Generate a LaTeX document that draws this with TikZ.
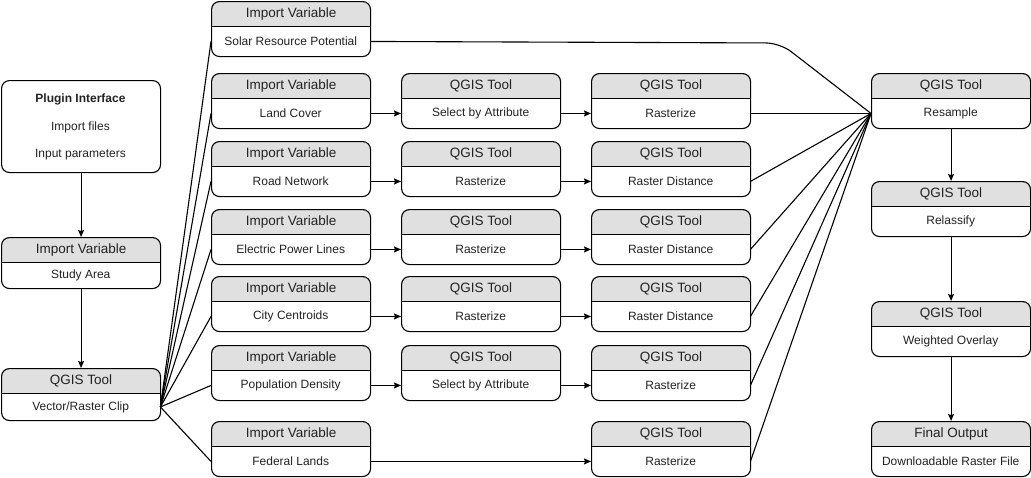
\documentclass[tikz,border=0pt]{standalone}
\usepackage{fontspec}
\setmainfont{Liberation Sans}
\usetikzlibrary{arrows.meta,calc}
\definecolor{hdrgray}{HTML}{E0E0E0}
\definecolor{txtcol}{HTML}{222222}
\tikzset{
  box/.style={draw, line width=1.1pt, rounded corners=8pt, minimum width=159pt, inner sep=0pt},
  hdrtxt/.style={inner sep=0pt, text=txtcol, font=\fontsize{13.5}{16}\selectfont},
  bodytxt/.style={inner sep=0pt, text=txtcol, font=\fontsize{12}{14}\selectfont},
  conn/.style={line width=1.1pt},
  arr/.style={conn, -{Stealth[length=7pt,width=6pt,inset=1pt]}},
}
% #1 name, #2 x left, #3 y top, #4 height, #5 header, #6 body
\newcommand\swim[6]{%
  \begin{scope}
    \clip (#2,-#3) rectangle ++(159,-25.5);
    \fill[hdrgray, rounded corners=8pt] (#2,-#3) rectangle ++(159,-#4);
  \end{scope}
  \node[box, minimum height=#4pt, anchor=north west] (#1) at (#2,-#3) {};
  \node[bodytxt, minimum width=159pt, minimum height={(#4-25.5)*1pt}, anchor=north west] (#1-b) at ($(#1.north west)+(0,-25.5)$) {#6};
  \node[hdrtxt] (#1-h) at ($(#1.north)+(0,-12.75)$) {#5};
  \draw[line width=1.1pt] (#1-b.north west) -- (#1-b.north east);
}
\begin{document}
\begin{tikzpicture}[x=1pt,y=1pt]
\useasboundingbox (0,0) rectangle (1031,-477);
% left column
\node[box, minimum height=92pt, anchor=north west] (plug) at (1,-80) {};
\node[bodytxt, font=\fontsize{12}{14}\selectfont\bfseries] (plug-t1) at (80.5,-99) {Plugin Interface};
\node[bodytxt] (plug-t2) at (80.5,-127) {Import files};
\node[bodytxt] (plug-t3) at (80.5,-155) {Input parameters};
\swim{study}{1}{237}{51}{Import Variable}{Study Area}
\swim{clip}{1}{368}{52}{QGIS Tool}{Vector/Raster Clip}
% import variables
\swim{solar}{211}{1}{55}{Import Variable}{Solar Resource Potential}
\swim{land}{211}{73}{55}{Import Variable}{Land Cover}
\swim{road}{211}{141}{55}{Import Variable}{Road Network}
\swim{elec}{211}{209}{55}{Import Variable}{Electric Power Lines}
\swim{city}{211}{276}{55}{Import Variable}{City Centroids}
\swim{pop}{211}{345}{55}{Import Variable}{Population Density}
\swim{fed}{211}{421}{55}{Import Variable}{Federal Lands}
% column 3
\swim{landA}{401}{73}{55}{QGIS Tool}{Select by Attribute}
\swim{roadA}{401}{141}{55}{QGIS Tool}{Rasterize}
\swim{elecA}{401}{209}{55}{QGIS Tool}{Rasterize}
\swim{cityA}{401}{276}{55}{QGIS Tool}{Rasterize}
\swim{popA}{401}{345}{55}{QGIS Tool}{Select by Attribute}
% column 4
\swim{landB}{591}{73}{55}{QGIS Tool}{Rasterize}
\swim{roadB}{591}{141}{55}{QGIS Tool}{Raster Distance}
\swim{elecB}{591}{209}{55}{QGIS Tool}{Raster Distance}
\swim{cityB}{591}{276}{55}{QGIS Tool}{Raster Distance}
\swim{popB}{591}{345}{55}{QGIS Tool}{Rasterize}
\swim{fedB}{591}{421}{55}{QGIS Tool}{Rasterize}
% right column
\swim{res}{871}{73}{55}{QGIS Tool}{Resample}
\swim{recl}{871}{181}{55}{QGIS Tool}{Relassify}
\swim{wov}{871}{301}{55}{QGIS Tool}{Weighted Overlay}
\swim{fin}{871}{421}{55}{Final Output}{Downloadable Raster File}
\coordinate (bend) at (780,-43);
% connectors
\draw[arr] (plug.south) -- (study.north);
\draw[arr] (study.south) -- (clip.north);
\foreach \n in {solar,land,road,elec,city,pop,fed}
  \draw[conn] (clip-b.east) -- (\n-b.west);
\foreach \n in {land,road,elec,city,pop}{
  \draw[arr] (\n-b.east) -- (\n A-b.west);
  \draw[arr] (\n A-b.east) -- (\n B-b.west);
}
\draw[arr] (fed-b.east) -- (fedB-b.west);
\foreach \n in {landB,roadB,elecB,cityB,popB,fedB}
  \draw[conn] (\n-b.east) -- (res-b.west);
\draw[conn, rounded corners=14pt] (solar-b.east) -- (bend) -- (res-b.west);
\draw[arr] (res.south) -- (recl.north);
\draw[arr] (recl.south) -- (wov.north);
\draw[arr] (wov.south) -- (fin.north);
\end{tikzpicture}
\end{document}
